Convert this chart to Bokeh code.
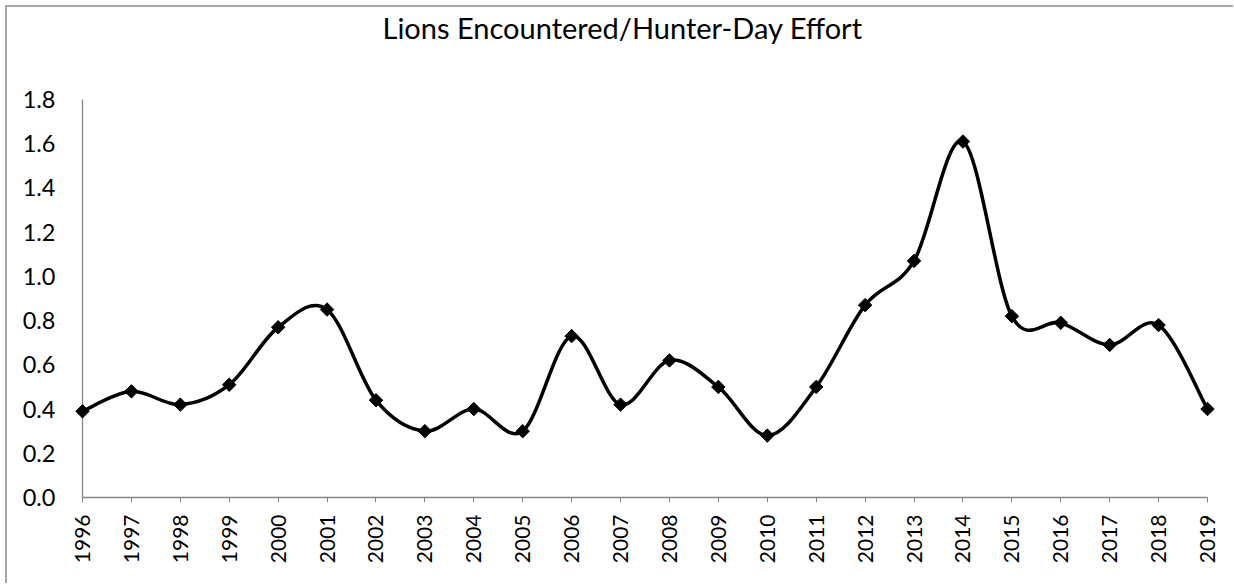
import math
from bokeh.plotting import figure
from bokeh.models import Range1d, FixedTicker, Title
from bokeh.embed import file_html
from bokeh.resources import INLINE

# ---- data ----
years = [1996, 1997, 1998, 1999, 2000, 2001, 2002, 2003, 2004, 2005, 2006, 2007,
         2008, 2009, 2010, 2011, 2012, 2013, 2014, 2015, 2016, 2017, 2018, 2019]
rates = [0.39, 0.48, 0.42, 0.51, 0.77, 0.85, 0.44, 0.30, 0.40, 0.30, 0.73, 0.42,
         0.62, 0.50, 0.28, 0.50, 0.87, 1.07, 1.61, 0.82, 0.79, 0.69, 0.78, 0.40]
year_labels = ["1996", "1997", "1998", "1999", "2000", "2001", "2002", "2003",
               "2004", "2005", "2006", "2007", "2008", "2009", "2010", "2011",
               "2012", "2013", "2014", "2015", "2016", "2017", "2018", "2019"]
y_ticks = [0.0, 0.2, 0.4, 0.6, 0.8, 1.0, 1.2, 1.4, 1.6, 1.8]
y_tick_labels = ["0.0", "0.2", "0.4", "0.6", "0.8", "1.0", "1.2", "1.4", "1.6", "1.8"]
title_text = "Lions Encountered/Hunter-Day Effort"

FONT = "Lato"

# smoothed line: cubic Bezier segments through the data points (Catmull-Rom style)
n = len(years)
bx0, by0, bx1, by1, bcx0, bcy0, bcx1, bcy1 = [], [], [], [], [], [], [], []
for i in range(n - 1):
    a = i - 1 if i > 0 else 0
    d = i + 2 if i + 2 < n else n - 1
    bx0.append(years[i]); by0.append(rates[i])
    bx1.append(years[i + 1]); by1.append(rates[i + 1])
    bcx0.append(years[i] + (years[i + 1] - years[a]) / 6.0)
    bcy0.append(rates[i] + (rates[i + 1] - rates[a]) / 6.0)
    bcx1.append(years[i + 1] - (years[d] - years[i]) / 6.0)
    bcy1.append(rates[i + 1] - (rates[d] - rates[i]) / 6.0)

p = figure(width=1228, height=578,
           x_range=Range1d(years[0], years[-1]), y_range=Range1d(y_ticks[0], y_ticks[-1]),
           output_backend="svg", toolbar_location=None,
           min_border_left=75, min_border_right=28, min_border_top=92, min_border_bottom=88)

p.styles = {"border-left": "2px solid #a6a6a6", "border-top": "2px solid #a6a6a6",
            "margin-left": "5px", "margin-top": "5px"}

p.outline_line_color = None
p.xgrid.grid_line_color = None
p.ygrid.grid_line_color = None
p.background_fill_color = "white"
p.border_fill_color = "white"
p.title.visible = False

# spacer between frame and title, then the title itself (outermost)
p.add_layout(Title(text=" ", text_font_size="1px", standoff=52), "above")
p.add_layout(Title(text=title_text, align="left", offset=300, standoff=0,
                   text_font=FONT, text_font_size="29px", text_font_style="normal",
                   text_color="black"), "above")

# x axis
xa = p.xaxis[0]
xa.ticker = FixedTicker(ticks=years)
xa.major_label_overrides = dict(zip(years, year_labels))
xa.major_label_orientation = math.pi / 2
xa.axis_line_color = "#868686"
xa.axis_line_width = 1.3
xa.major_tick_line_color = "#868686"
xa.major_tick_out = 5
xa.major_tick_in = 0
xa.minor_tick_out = 0
xa.minor_tick_in = 0
xa.major_label_standoff = 12
xa.major_label_text_font = FONT
xa.major_label_text_font_size = "21px"
xa.major_label_text_color = "black"

# y axis
ya = p.yaxis[0]
ya.ticker = FixedTicker(ticks=y_ticks)
ya.major_label_overrides = dict(zip(y_ticks, y_tick_labels))
ya.axis_line_color = "#868686"
ya.axis_line_width = 1.3
ya.major_tick_out = 0
ya.major_tick_in = 0
ya.minor_tick_out = 0
ya.minor_tick_in = 0
ya.major_label_standoff = 27
ya.major_label_text_font = FONT
ya.major_label_text_font_size = "23.5px"
ya.major_label_text_color = "black"

p.bezier(x0=bx0, y0=by0, x1=bx1, y1=by1, cx0=bcx0, cy0=bcy0, cx1=bcx1, cy1=bcy1,
         line_color="black", line_width=3.5, line_cap="round", level="overlay")
p.scatter(years, rates, marker="square", angle=math.pi / 4, size=9.5,
          fill_color="black", line_color="black", level="overlay")

open("out.html", "w").write(file_html(p, INLINE))
